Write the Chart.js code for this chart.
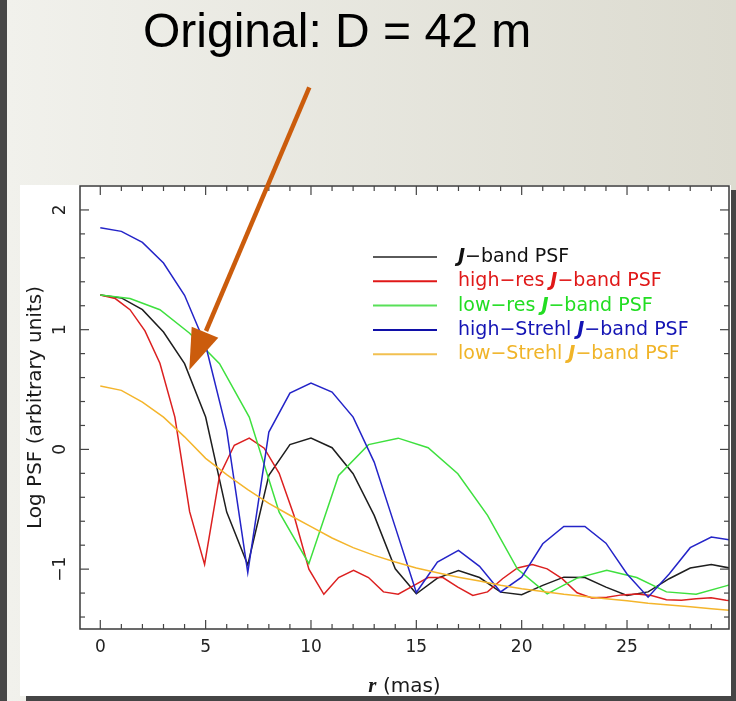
<!DOCTYPE html>
<html><head><meta charset="utf-8">
<script src="https://cdn.jsdelivr.net/npm/chart.js@4.4.1/dist/chart.umd.min.js"></script>
<style>
html,body{margin:0;padding:0;}
body{width:736px;height:701px;overflow:hidden;position:relative;
  background:linear-gradient(to right,#474747 0,#474747 7px,#f1f1ec 7px,#dcdbd0 100%);}
#panel{position:absolute;left:20px;top:185px;width:711px;height:511px;background:#fff;box-shadow:6px 5px 0 #454545;}
#c{display:block;}
#ov{position:absolute;left:0;top:0;pointer-events:none;}
</style></head><body>
<div id="panel"><canvas id="c" width="711" height="511"></canvas></div>
<svg id="ov" width="736" height="701" xmlns="http://www.w3.org/2000/svg">
  <text x="143" y="47.3" font-family="Liberation Sans, Arial, sans-serif" font-size="48" fill="#000">Original: D = 42 m</text>
  <line x1="309.3" y1="87.3" x2="206" y2="331" stroke="#cb5c0c" stroke-width="4.5" stroke-linecap="butt"/>
  <polygon points="191.7,326.7 218.3,337.7 189.3,370" fill="#cb5c0c"/>
</svg>
<script>
// ---- data ----
const rJ = [0,1,2,3,4,5,6,7,8,9,10,11,12,13,14,15,16,17,18,19,20,21,22,23,24,25,26,27,28,29,30];
const psfJ = [1.29,1.265,1.167,0.98,0.716,0.27,-0.524,-0.965,-0.217,0.04,0.094,0.014,-0.203,-0.551,-0.997,-1.206,-1.075,-1.011,-1.07,-1.192,-1.214,-1.136,-1.067,-1.07,-1.15,-1.22,-1.19,-1.08,-0.991,-0.961,-0.995];
const rHighRes = [0,0.71,1.41,2.12,2.83,3.54,4.24,4.95,5.66,6.36,7.07,7.78,8.49,9.19,9.9,10.61,11.31,12.02,12.73,13.44,14.14,14.85,15.56,16.26,16.97,17.68,18.38,19.09,19.8,20.51,21.21,21.92,22.63,23.33,24.04,24.75,25.46,26.16,26.87,27.58,28.28,28.99,29.7,30.41];
const psfHighRes = [1.29,1.26,1.167,0.99,0.72,0.27,-0.52,-0.96,-0.22,0.035,0.094,0.01,-0.2,-0.55,-1.0,-1.21,-1.07,-1.01,-1.07,-1.19,-1.21,-1.14,-1.07,-1.07,-1.15,-1.22,-1.19,-1.08,-0.99,-0.962,-0.998,-1.08,-1.197,-1.24,-1.235,-1.215,-1.207,-1.22,-1.255,-1.26,-1.247,-1.24,-1.26,-1.27];
const rLowRes = [0,1.41,2.83,4.24,5.66,7.07,8.49,9.9,11.31,12.73,14.14,15.56,16.97,18.38,19.8,21.21,22.63,24.04,25.46,26.87,28.28,29.7,31.11];
const psfLowRes = [1.29,1.26,1.167,0.97,0.716,0.27,-0.524,-0.955,-0.217,0.04,0.094,0.014,-0.203,-0.551,-1.0,-1.206,-1.075,-1.01,-1.07,-1.19,-1.21,-1.14,-1.07];
const rHighStrehl = [0,1,2,3,4,5,6,7,8,9,10,11,12,13,14,15,16,17,18,19,20,21,22,23,24,25,26,27,28,29,30];
const psfHighStrehl = [1.852,1.821,1.729,1.557,1.287,0.87,0.159,-1.03,0.145,0.47,0.554,0.479,0.27,-0.106,-0.649,-1.195,-0.941,-0.844,-0.977,-1.19,-1.067,-0.788,-0.643,-0.643,-0.783,-1.04,-1.234,-1.04,-0.821,-0.732,-0.76];
const rLowStrehl = [0,1,2,3,4,5,6,7,8,9,10,11,12,13,14,15,16,17,18,19,20,21,22,23,24,25,26,27,28,29,30];
const psfLowStrehl = [0.53,0.493,0.395,0.27,0.105,-0.075,-0.21,-0.335,-0.45,-0.55,-0.645,-0.74,-0.82,-0.885,-0.94,-0.99,-1.03,-1.067,-1.1,-1.135,-1.164,-1.186,-1.21,-1.228,-1.247,-1.265,-1.285,-1.3,-1.315,-1.33,-1.345];

const seriesLabels = ['J\u2212band PSF','high\u2212res J\u2212band PSF','low\u2212res J\u2212band PSF','high\u2212Strehl J\u2212band PSF','low\u2212Strehl J\u2212band PSF'];
const seriesColors = ['#1e1e1e','#dc2020','#3ee03e','#2424c8','#f4b52c'];
const legendLineColors = ['#5a5a5a','#e01818','#58e058','#1010a8','#f2c050'];
const legendTextColors = ['#111111','#e01818','#22dd22','#1414b4','#f0b428'];
const xTickValues = [0,5,10,15,20,25];
const yTickValues = [-1,0,1,2];
const xTitle = ['r',' (mas)'];
const yTitle = 'Log PSF (arbitrary units)';

const pts = (xs, ys) => xs.map((x,i)=>({x:x, y:ys[i]}));
const seriesData = [pts(rJ,psfJ), pts(rHighRes,psfHighRes), pts(rLowRes,psfLowRes), pts(rHighStrehl,psfHighStrehl), pts(rLowStrehl,psfLowStrehl)];

const FONT = '"DejaVu Sans", sans-serif';

const decorPlugin = {
  id:'decor',
  afterDatasetsDraw(chart){
    const {ctx, chartArea:a, scales:{x,y}} = chart;
    ctx.save();
    // frame
    ctx.strokeStyle='#3a3a3a'; ctx.lineWidth=1.5;
    ctx.strokeRect(a.left, a.top, a.right-a.left, a.bottom-a.top);
    // inward ticks, all four sides
    ctx.strokeStyle='#444'; ctx.lineWidth=1.2;
    const seg=(x0,y0,x1,y1)=>{ctx.beginPath();ctx.moveTo(x0,y0);ctx.lineTo(x1,y1);ctx.stroke();};
    for (let v=Math.ceil(x.min); v<=x.max; v++){
      const px=x.getPixelForValue(v); const L = xTickValues.includes(v)?9:5;
      seg(px,a.bottom,px,a.bottom-L); seg(px,a.top,px,a.top+L);
    }
    for (let k=Math.ceil(y.min*5); k<=Math.floor(y.max*5-0.01); k++){
      const py=y.getPixelForValue(k/5); const L = (k%5===0)?9:5;
      seg(a.left,py,a.left+L,py); seg(a.right,py,a.right-L,py);
    }
    // legend
    const lx0=a.left+293, lx1=a.left+357, tx=a.left+378, ty0=a.top+71, dy=24.3;
    ctx.textBaseline='middle'; ctx.textAlign='left';
    chart.data.datasets.forEach((ds,i)=>{
      const yy=ty0+i*dy;
      ctx.strokeStyle=legendLineColors[i]; ctx.lineWidth=2;
      seg(lx0,yy,lx1,yy);
      const parts = ds.label.split('J');
      let cx=tx;
      ctx.fillStyle=legendTextColors[i];
      ctx.font='19px '+FONT; ctx.fillText(parts[0],cx,yy); cx+=ctx.measureText(parts[0]).width;
      ctx.font='bold italic 19px '+FONT; ctx.fillText('J',cx,yy); cx+=ctx.measureText('J').width;
      ctx.font='19px '+FONT; ctx.fillText(parts[1],cx,yy);
    });
    // x title
    ctx.fillStyle='#1a1a1a'; ctx.textBaseline='alphabetic';
    ctx.font='bold italic 21px "Liberation Serif", serif';
    const w0=ctx.measureText(xTitle[0]).width;
    ctx.font='20px '+FONT;
    const w1=ctx.measureText(xTitle[1]).width;
    let sx=(a.left+a.right)/2-(w0+w1)/2;
    ctx.font='bold italic 21px "Liberation Serif", serif'; ctx.fillText(xTitle[0],sx,507);
    ctx.font='20px '+FONT; ctx.fillText(xTitle[1],sx+w0,507);
    // y title
    ctx.translate(20.5,(a.top+a.bottom)/2); ctx.rotate(-Math.PI/2);
    ctx.textAlign='center'; ctx.font='20px '+FONT; ctx.fillText(yTitle,0,0);
    ctx.restore();
  }
};

const noPad = s => { s.paddingTop=0; s.paddingBottom=0; s.paddingLeft=0; s.paddingRight=0; };

new Chart(document.getElementById('c'), {
  type:'line',
  data:{datasets: seriesLabels.map((lab,i)=>({
    label:lab, data:seriesData[i], borderColor:seriesColors[i], backgroundColor:seriesColors[i],
    borderWidth:1.5, pointRadius:0, tension:0, fill:false, order:4-i
  }))},
  options:{
    responsive:false, animation:false, devicePixelRatio:1,
    layout:{padding:{top:1,right:2,left:0,bottom:0}},
    plugins:{legend:{display:false}, tooltip:{enabled:false}},
    scales:{
      x:{type:'linear', min:-0.963, max:29.84,
        afterBuildTicks:s=>{s.ticks=xTickValues.map(v=>({value:v}));},
        afterFit:s=>{s.height=67; noPad(s);},
        grid:{display:false, drawTicks:false, tickLength:0}, border:{display:false},
        ticks:{padding:8, font:{family:'DejaVu Sans', size:17}, color:'#222', maxRotation:0}},
      y:{type:'linear', min:-1.5, max:2.2,
        afterBuildTicks:s=>{s.ticks=yTickValues.map(v=>({value:v}));},
        afterFit:s=>{s.width=60; noPad(s);},
        grid:{display:false, drawTicks:false, tickLength:0}, border:{display:false},
        ticks:{padding:6.5, minRotation:90, maxRotation:90, crossAlign:'center',
          font:{family:'DejaVu Sans', size:17}, color:'#222',
          callback:v=> v<0 ? '\u2212'+Math.abs(v) : String(v)}}
    }
  },
  plugins:[decorPlugin]
});
</script>
</body></html>
